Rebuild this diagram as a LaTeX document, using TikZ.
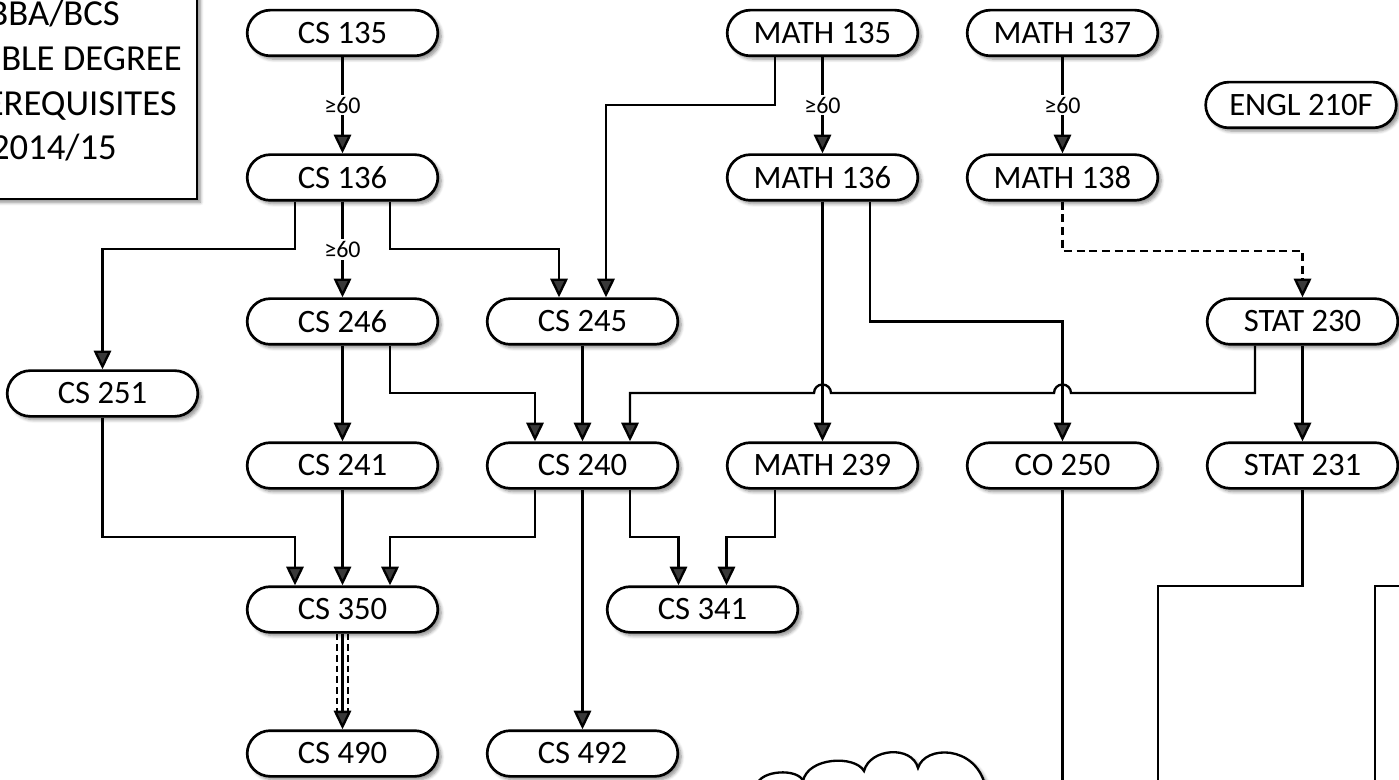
\documentclass[tikz,border=0pt]{standalone}
\usepackage{fontspec}
\setmainfont{Carlito}
\usetikzlibrary{arrows.meta,calc,shadows.blur}
\begin{document}
\begin{tikzpicture}[x=0.75pt,y=0.75pt,
  shad/.style={blur shadow={shadow xshift=2.5pt,shadow yshift=-2.5pt,shadow blur steps=6,shadow blur radius=2.5pt,shadow opacity=45}},
  course/.style={draw,line width=2pt,fill=white,rounded corners=17.25pt,minimum width=143pt,minimum height=34.25pt,inner sep=0pt,font=\fontsize{24.5}{28}\selectfont,shad},
  link/.style={line width=1.75pt},
  arr/.style={link,-{Triangle[length=14pt,width=13pt]}},
  lbl/.style={fill=white,inner sep=1.5pt,font=\fontsize{18}{21}\selectfont},
  dsh/.style={dash pattern=on 6pt off 3.5pt},
  dsh2/.style={line width=1.6pt,dash pattern=on 5pt off 3pt},
  ttl/.style={anchor=base east,inner sep=0pt,font=\fontsize{27.5}{32}\selectfont},
]
\useasboundingbox (0,0) rectangle (1399,-780);
\clip (0,0) rectangle (1399,-780);

% level coordinates
\coordinate (yA) at (0,-249);
\coordinate (yB) at (0,-105);
\coordinate (yC) at (0,-321.5);
\coordinate (yD) at (0,-393);
\coordinate (yE) at (0,-537);
\coordinate (yF) at (0,-251);
\coordinate (bot) at (0,-800);
\coordinate (s1) at (1158,-586);
\coordinate (r0) at (1420,-586);
\coordinate (r1) at (1375,-586);

% title box (cut by the picture's edge)
\draw[line width=2pt,fill=white,shad] (-20,20) rectangle (197,-199);
\node[ttl] (t1) at (120,-26) {BBA/BCS};
\node[ttl] (t2) at (182,-71) {DOUBLE DEGREE};
\node[ttl] (t3) at (177,-116) {PREREQUISITES};
\node[ttl] (t4) at (117,-160) {2014/15};

% cloud (partially visible)
\draw[line width=1.75pt,fill=white,shad] (757,-785) .. controls (760,-770) and (798,-768) .. (803,-781)
  .. controls (808,-757) and (855,-755) .. (864,-771)
  .. controls (870,-748) and (912,-745) .. (918,-768)
  .. controls (925,-745) and (975,-745) .. (985,-785) -- (985,-800) -- (757,-800) -- cycle;

% course nodes
\node[course] (cs135) at (342.5,-33) {CS 135};
\node[course] (cs136) at (342.5,-177.5) {CS 136};
\node[course] (math135) at (822.5,-33) {MATH 135};
\node[course] (math136) at (822.5,-177.5) {MATH 136};
\node[course] (math137) at (1062.5,-33) {MATH 137};
\node[course] (math138) at (1062.5,-177.5) {MATH 138};
\node[course] (engl) at (1301,-105) {ENGL 210F};
\node[course] (cs246) at (342.5,-321.5) {CS 246};
\node[course] (cs245) at (582.5,-321.5) {CS 245};
\node[course] (stat230) at (1302.5,-321.5) {STAT 230};
\node[course] (cs251) at (102.5,-393.5) {CS 251};
\node[course] (cs241) at (342.5,-465.5) {CS 241};
\node[course] (cs240) at (582.5,-465.5) {CS 240};
\node[course] (math239) at (822.5,-465.5) {MATH 239};
\node[course] (co250) at (1062.5,-465.5) {CO 250};
\node[course] (stat231) at (1302.5,-465.5) {STAT 231};
\node[course] (cs350) at (342.5,-609.5) {CS 350};
\node[course] (cs341) at (702.5,-609.5) {CS 341};
\node[course] (cs490) at (342.5,-753.5) {CS 490};
\node[course] (cs492) at (582.5,-753.5) {CS 492};

% connectors
\draw[arr] (cs135) -- node[lbl]{≥60} (cs136);
\draw[arr] (math135) -- node[lbl]{≥60} (math136);
\draw[arr] (math137) -- node[lbl]{≥60} (math138);
\draw[arr] (cs136) -- node[lbl]{≥60} (cs246);
\draw[arr] ($(cs136.south)+(-47.5,0)$) |- (cs251.north |- yA) -- (cs251.north);
\draw[arr] ($(cs136.south)+(47.5,0)$) |- ($(cs245.north |- yA)+(-23.5,0)$) -- ($(cs245.north)+(-23.5,0)$);
\draw[arr] ($(math135.south)+(-47.5,0)$) |- ($(cs245.north |- yB)+(23.5,0)$) -- ($(cs245.north)+(23.5,0)$);
\draw[arr,dsh] (math138.south) |- (stat230.north |- yF) -- (stat230.north);
\draw[arr] (math136) -- (math239);
\draw[arr] ($(math136.south)+(47.5,0)$) |- (co250.north |- yC) -- (co250.north);
\draw[arr] ($(stat230.south)+(-47.5,0)$) |- ($(co250 |- yD)+(8.5,0)$)
  arc[start angle=0,end angle=180,radius=6.375pt]
  -- ($(math239 |- yD)+(8.5,0)$)
  arc[start angle=0,end angle=180,radius=6.375pt]
  -| ($(cs240.north)+(47.5,0)$);
\draw[arr] (stat230) -- (stat231);
\draw[arr] (cs246) -- (cs241);
\draw[arr] ($(cs246.south)+(47.5,0)$) |- ($(cs240.north |- yD)+(-47.5,0)$) -- ($(cs240.north)+(-47.5,0)$);
\draw[arr] (cs245) -- (cs240);
\draw[arr] (cs251.south) |- ($(cs350.north |- yE)+(-47.5,0)$) -- ($(cs350.north)+(-47.5,0)$);
\draw[arr] (cs241) -- (cs350);
\draw[arr] ($(cs240.south)+(-47.5,0)$) |- ($(cs350.north |- yE)+(47.5,0)$) -- ($(cs350.north)+(47.5,0)$);
\draw[arr] (cs240) -- (cs492);
\draw[arr] ($(cs240.south)+(47.5,0)$) |- ($(cs341.north |- yE)+(-24,0)$) -- ($(cs341.north)+(-24,0)$);
\draw[arr] ($(math239.south)+(-47.5,0)$) |- ($(cs341.north |- yE)+(24,0)$) -- ($(cs341.north)+(24,0)$);
\draw[arr] (cs350) -- (cs490);
\draw[dsh2] ($(cs350.south)+(-5.7,0)$) -- ($(cs490.north)+(-5.7,17)$);
\draw[dsh2] ($(cs350.south)+(5.7,0)$) -- ($(cs490.north)+(5.7,17)$);
\draw[link] (co250.south) -- (co250.south |- bot);
\draw[link] (stat231.south) |- (s1) -- (s1 |- bot);
\draw[link] (r0) -- (r1) -- (r1 |- bot);
\end{tikzpicture}
\end{document}
